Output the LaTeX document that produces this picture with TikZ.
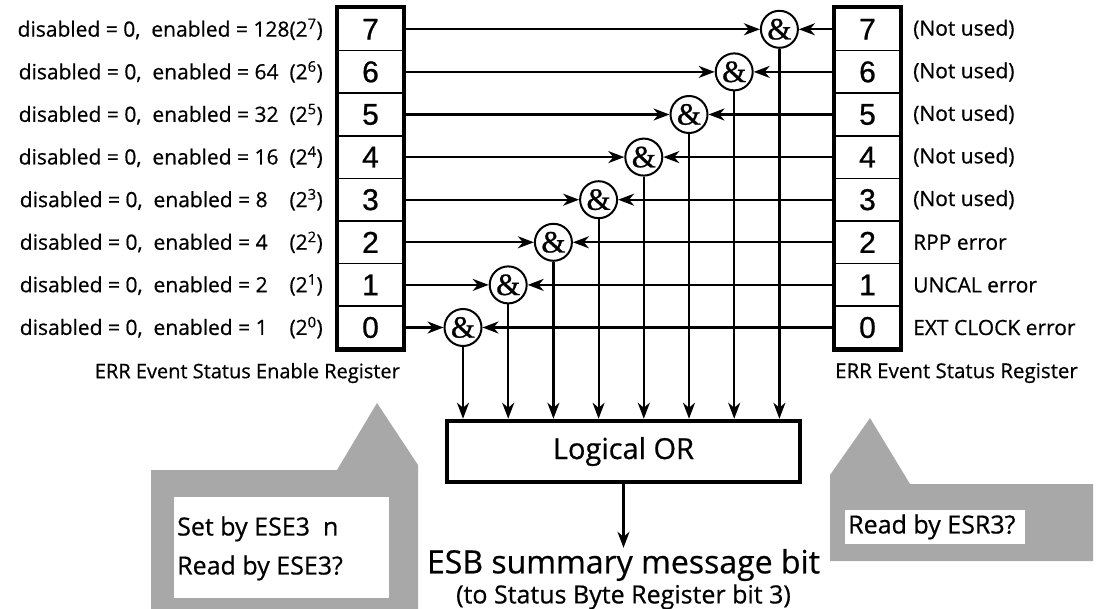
\documentclass[tikz,border=0pt]{standalone}
\usepackage{fontspec}
\setmainfont{Open Sans}[FakeBold=0.6]
\newfontfamily\digitfont{Liberation Sans}[FakeBold=0.8]
\newfontfamily\ampfont{Liberation Serif}[FakeBold=0.8]
\usetikzlibrary{positioning,arrows.meta,fit}
\definecolor{dither}{gray}{0.66}

\tikzset{
  cell/.style={draw, line width=1.6pt, minimum width=65pt, minimum height=42.6pt,
    inner sep=0pt, font=\digitfont\fontsize{30}{30}\selectfont},
  gate/.style={draw, circle, line width=2pt, minimum size=37pt, inner sep=0pt,
    font=\ampfont\fontsize{31}{31}\selectfont},
  lbl/.style={font=\fontsize{21}{21}\selectfont, inner sep=0pt},
  note/.style={font=\fontsize{25}{25}\selectfont, inner sep=0pt, anchor=west},
  sig/.style={line width=2.2pt, -{Stealth[length=16pt,width=12pt,inset=5pt]}},
}

\begin{document}
\begin{tikzpicture}[x=1pt,y=-1pt]
    \useasboundingbox (0,0) rectangle (1098,609);
    % shaded callouts
    \fill[dither] (151,470) -- (337,470) -- (377,403) -- (418,465) -- (418,609) -- (151,609) -- cycle;
    \fill[white] (174,497) rectangle (389,598);
    \fill[dither] (830,475) -- (870,418) -- (910,484) -- (1093,484) -- (1093,561) -- (830,561) -- cycle;
    \fill[white] (845,510) rectangle (1025,544);
    \node[note] (setby) at (177,529) {Set by ESE3\ \ n};
    \node[note] (readese) at (177,568) {Read by ESE3?};
    \node[note] (readesr) at (848,527) {Read by ESR3?};

    \node[draw, line width=4.5pt, minimum width=353pt, minimum height=61pt,
      font=\fontsize{29}{29}\selectfont] (or) at (623.5,451.5) {Logical OR};
    \node[font=\fontsize{32}{32}\selectfont, inner sep=1pt] (esb) at (623.5,565) {ESB summary message bit};
    \node[font=\fontsize{25}{25}\selectfont, inner sep=1pt, below=1pt of esb] (esbnote) {(to Status Byte Register bit 3)};
    \draw[sig] (or) -- (esb);

    \foreach \i/\v/\t in {7/{128(2\textsuperscript{7})}/{(Not used)},
                          6/{64\ \ (2\textsuperscript{6})}/{(Not used)},
                          5/{32\ \ (2\textsuperscript{5})}/{(Not used)},
                          4/{16\ \ (2\textsuperscript{4})}/{(Not used)},
                          3/{8\ \ \ \ (2\textsuperscript{3})}/{(Not used)},
                          2/{4\ \ \ \ (2\textsuperscript{2})}/{RPP error},
                          1/{2\ \ \ \ (2\textsuperscript{1})}/{UNCAL error},
                          0/{1\ \ \ \ (2\textsuperscript{0})}/{EXT CLOCK error}} {
      \pgfmathsetmacro\rowy{8+(7.5-\i)*42.6}
      \pgfmathsetmacro\gatex{463+45.2*\i}
      \node[cell] (e\i) at (370.5,\rowy) {\i};
      \node[cell] (r\i) at (867.5,\rowy) {\i};
      \node[gate] (g\i) at (\gatex,\rowy) {\&};
      \node[lbl, anchor=east] (d\i) at (323,\rowy) {disabled = 0,\ \ enabled = \v};
      \node[lbl, anchor=west] (n\i) at (913,\rowy) {\t};
      \draw[sig] (e\i) -- (g\i);
      \draw[sig] (r\i) -- (g\i);
      \draw[sig] (g\i) -- (g\i |- or.north);
    }

    \node[draw, line width=4.5pt, inner sep=0pt, fit=(e7)(e0)] (ese) {};
    \node[draw, line width=4.5pt, inner sep=0pt, fit=(r7)(r0)] (esr) {};
    \node[lbl, font=\fontsize{20}{20}\selectfont, below left=11pt and 6pt of ese.south east] (esecap) {ERR Event Status Enable Register};
    \node[lbl, font=\fontsize{20.5}{20.5}\selectfont, below right=11pt and 3pt of esr.south west] (esrcap) {ERR Event Status Register};
  \end{tikzpicture}
\end{document}
